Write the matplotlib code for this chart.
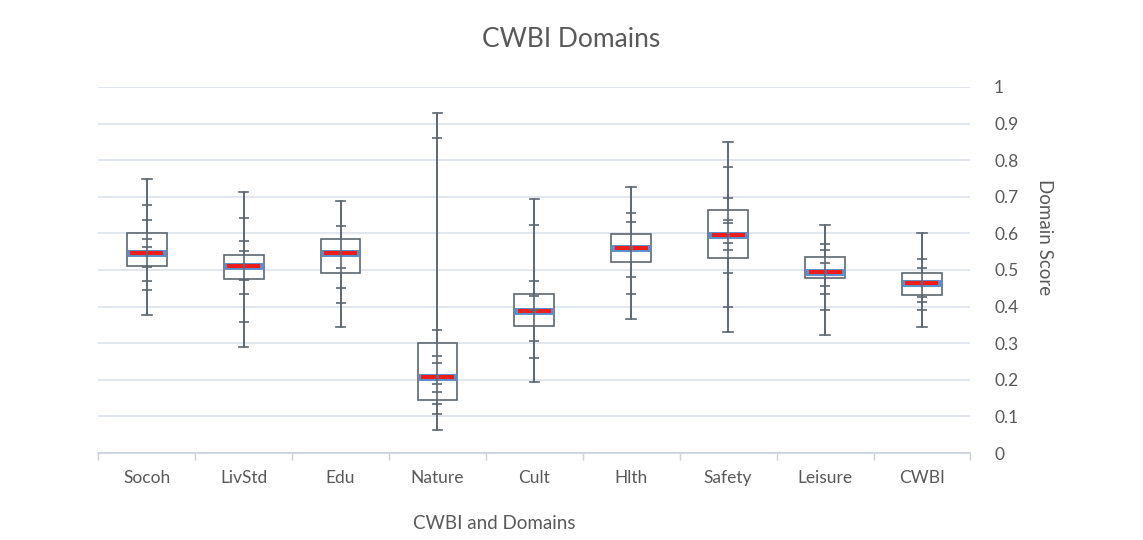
import numpy as np
import matplotlib.pyplot as plt

plt.rcParams['font.family'] = ['Lato', 'DejaVu Sans']

# domain scores summarised per category
domains = ['Socoh', 'LivStd', 'Edu', 'Nature', 'Cult', 'Hlth', 'Safety', 'Leisure', 'CWBI']
lo = [0.378, 0.291, 0.344, 0.064, 0.193, 0.366, 0.331, 0.323, 0.344]
q1 = [0.510, 0.476, 0.491, 0.146, 0.348, 0.521, 0.532, 0.478, 0.432]
med = [0.546, 0.512, 0.546, 0.207, 0.389, 0.561, 0.596, 0.495, 0.465]
q3 = [0.600, 0.541, 0.585, 0.301, 0.434, 0.599, 0.664, 0.535, 0.491]
hi = [0.748, 0.712, 0.689, 0.930, 0.694, 0.726, 0.850, 0.624, 0.600]

# individual region scores marked along each whisker
points = [
    [0.678, 0.637, 0.585, 0.564, 0.507, 0.471, 0.446],
    [0.643, 0.578, 0.552, 0.473, 0.435, 0.358],
    [0.621, 0.505, 0.450, 0.411],
    [0.861, 0.337, 0.264, 0.246, 0.189, 0.166, 0.134, 0.107],
    [0.623, 0.471, 0.428, 0.392, 0.307, 0.260],
    [0.655, 0.632, 0.480, 0.434],
    [0.782, 0.698, 0.636, 0.629, 0.573, 0.555, 0.491, 0.400],
    [0.572, 0.555, 0.520, 0.455, 0.435, 0.392],
    [0.530, 0.505, 0.425, 0.412, 0.392],
]

grey = '#5d6770'
text_col = '#595959'

fig = plt.figure(figsize=(11.43, 5.4), dpi=100)
ax = fig.add_axes([0.086, 0.161, 0.763, 0.678])

pos = np.arange(len(domains))
stats = [dict(whislo=a, q1=b, med=c, q3=d, whishi=e, fliers=[])
         for a, b, c, d, e in zip(lo, q1, med, q3, hi)]
ax.bxp(stats, positions=pos, widths=0.41, showfliers=False, patch_artist=True,
       boxprops=dict(facecolor='white', edgecolor=grey, linewidth=1.2),
       whiskerprops=dict(color=grey, linewidth=1.2),
       capprops=dict(color=grey, linewidth=1.2), capwidths=0.1,
       medianprops=dict(color='#5b8fc9', linewidth=5, solid_capstyle='butt'),
       zorder=3)

# red median split in two dashes over the blue band
for p, m in zip(pos, med):
    ax.plot([p - 0.17, p + 0.17], [m, m], color='#f01c1c', linewidth=2.9,
            linestyle=(0, (4.0, 0.35)), solid_capstyle='butt', zorder=5)

# whisker line runs straight through the box
ax.vlines(pos, lo, hi, color=grey, linewidth=1.2, zorder=6)

# point markers on the whiskers
for p, vals in zip(pos, points):
    ax.scatter(np.full(len(vals), p), vals, marker='_', s=50, color=grey,
               linewidths=1.2, zorder=7)

ax.set_xlim(-0.5, len(domains) - 0.5)
ax.set_ylim(0, 1)
ax.set_yticks(np.arange(0, 1.01, 0.1))
ax.set_yticklabels(['0', '0.1', '0.2', '0.3', '0.4', '0.5', '0.6', '0.7', '0.8', '0.9', '1'])
ax.yaxis.tick_right()
ax.yaxis.set_label_position('right')
ax.tick_params(axis='y', length=0, pad=17, labelsize=12.5, labelcolor=text_col)
ax.grid(axis='y', color='#dce3ea', linewidth=1.2, zorder=0)
ax.set_axisbelow(True)

ax.set_xticks(pos)
ax.set_xticklabels(domains)
ax.set_xticks(np.arange(-0.5, len(domains)), minor=True)
ax.tick_params(axis='x', which='major', length=0, pad=12, labelsize=12.5, labelcolor=text_col)
ax.tick_params(axis='x', which='minor', length=5, color='#c9d1d9', width=1)

for side in ['top', 'left', 'right']:
    ax.spines[side].set_visible(False)
ax.spines['bottom'].set_color('#c9d1d9')
ax.spines['bottom'].set_linewidth(1.2)

ax.set_ylabel('Domain Score', rotation=-90, fontsize=13.5, color=text_col)
ax.yaxis.set_label_coords(1.095, 0.59)
ax.set_xlabel('CWBI and Domains', fontsize=13.5, color=text_col)
ax.xaxis.set_label_coords((494 - 98) / 872, -0.17)
fig.suptitle('CWBI Domains', y=0.95, fontsize=19, color=text_col)

fig.savefig('out.png', dpi=100)
